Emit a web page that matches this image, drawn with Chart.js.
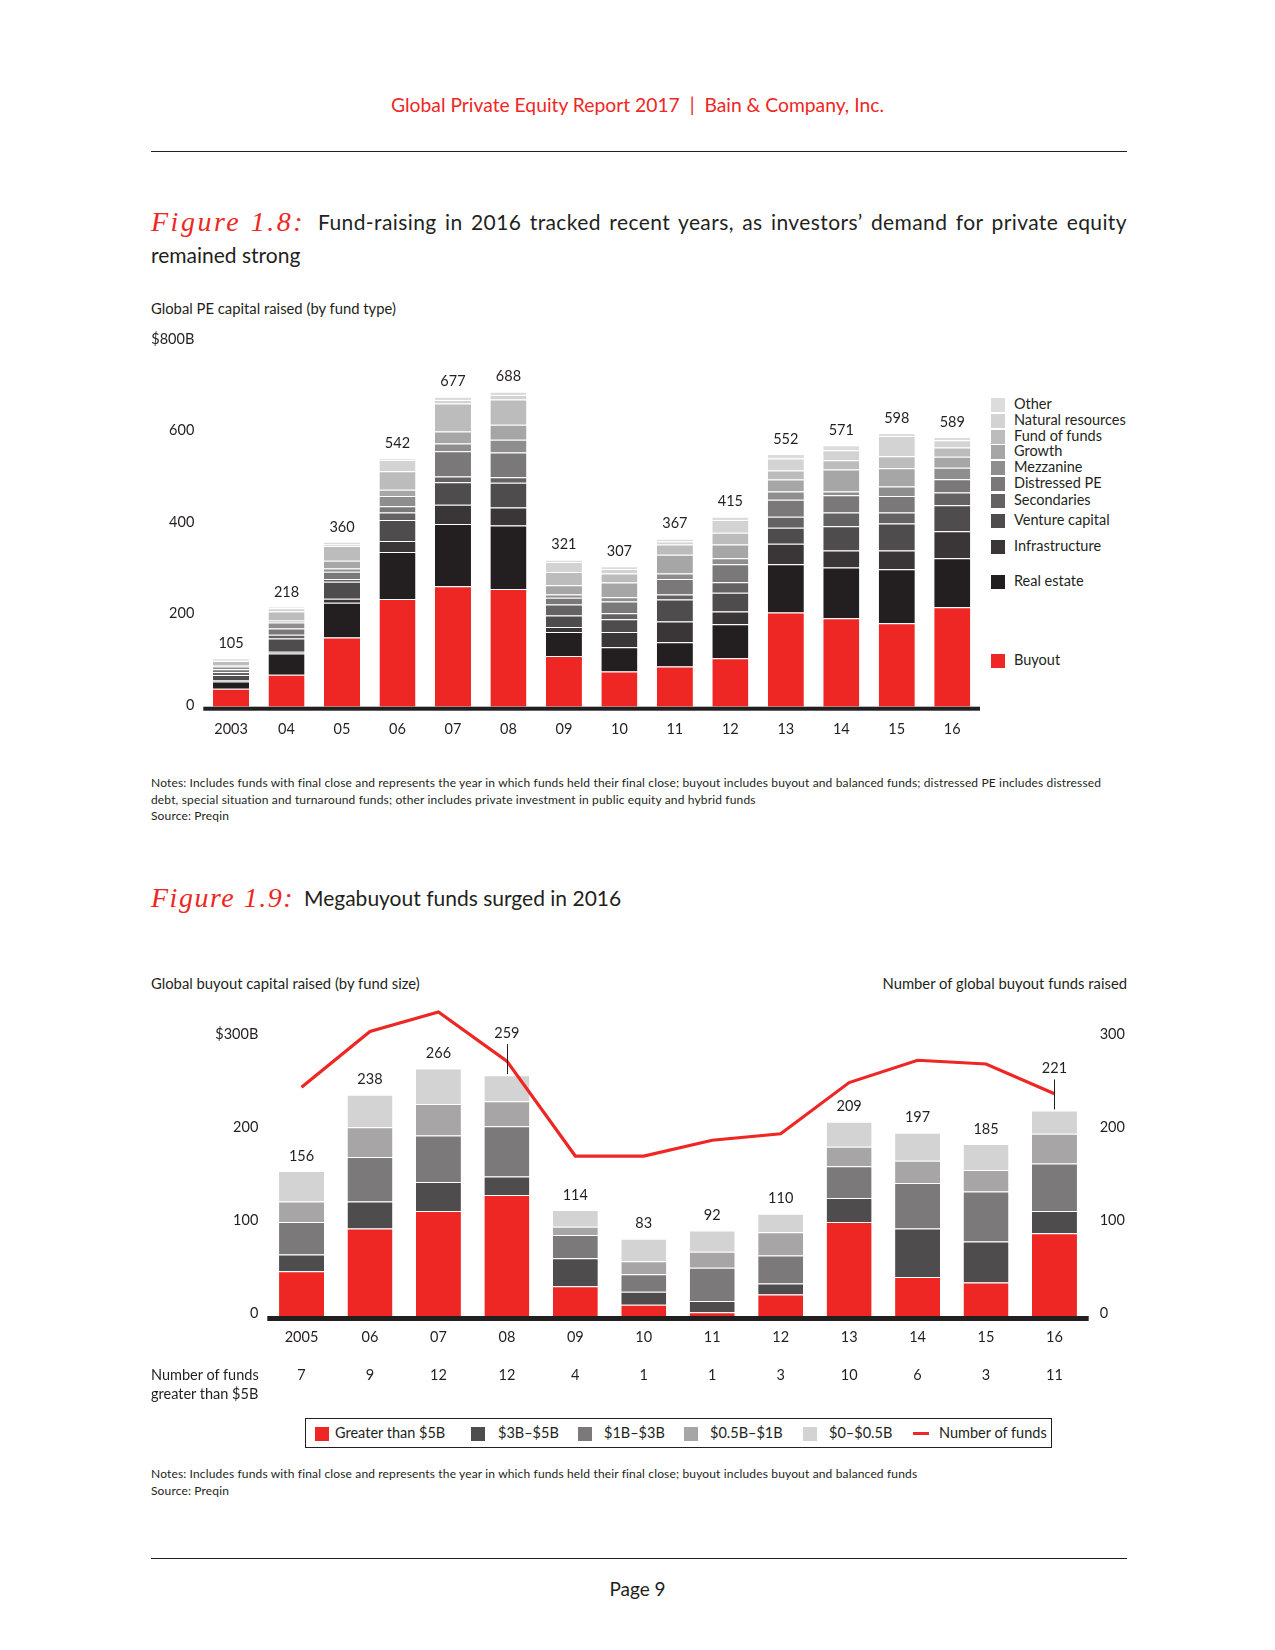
<!DOCTYPE html>
<html><head><meta charset="utf-8">
<script src="https://cdn.jsdelivr.net/npm/chart.js@4.4.0/dist/chart.umd.min.js"></script>
<style>
body{margin:0;background:#fff;}
#page{position:relative;width:1275px;height:1650px;font-family:Lato,sans-serif;color:#231F20;overflow:hidden;}
.abs{position:absolute;white-space:nowrap;}
.rule{position:absolute;left:151px;width:976px;height:1px;background:#231F20;}
.fig{font-family:"Liberation Serif",serif;font-style:italic;color:#EE2724;font-size:28px;letter-spacing:1.5px;}
.ttl{font-size:21px;}
.small{font-size:14.8px;}
.note{font-size:12px;line-height:16.5px;letter-spacing:0.15px;}
.lg1{position:absolute;left:991px;font-size:14.5px;height:16px;line-height:16px;}
.lg1 i{position:absolute;left:0;top:1px;width:14px;height:14px;}
.lg1 span{position:absolute;left:23px;top:-1px;white-space:nowrap;}
.sq{position:absolute;width:14px;height:14px;top:8px;}
.lt{position:absolute;top:5px;font-size:14.5px;white-space:nowrap;line-height:18px;}
canvas{position:absolute;}
</style></head><body><div id="page">

<div class="abs" style="left:0;width:1275px;text-align:center;top:94px;font-size:19.3px;line-height:22px;color:#EE2724;">Global Private Equity Report 2017&nbsp;&nbsp;|&nbsp;&nbsp;Bain &amp; Company, Inc.</div>
<div class="rule" style="top:151px;"></div>

<div class="abs fig" style="left:151px;top:204px;line-height:36px;letter-spacing:2.5px;">Figure 1.8:</div>
<div class="abs ttl" style="left:318px;width:809px;top:209px;line-height:26px;letter-spacing:0.4px;text-align:justify;text-align-last:justify;">Fund-raising in 2016 tracked recent years, as investors’ demand for private equity</div>
<div class="abs ttl" style="left:151px;top:242px;line-height:26px;">remained strong</div>
<div class="abs small" style="left:151px;top:299px;line-height:18px;">Global PE capital raised (by fund type)</div>

<canvas id="c1" width="890" height="420" style="left:100px;top:320px;width:890px;height:420px;"></canvas>
<div id="legend1"></div>

<div class="abs note" style="left:151px;top:775px;">Notes: Includes funds with final close and represents the year in which funds held their final close; buyout includes buyout and balanced funds; distressed PE includes distressed<br>debt, special situation and turnaround funds; other includes private investment in public equity and hybrid funds<br>Source: Preqin</div>

<div class="abs fig" style="left:151px;top:880px;line-height:36px;">Figure 1.9:</div>
<div class="abs ttl" style="left:304px;top:885px;line-height:26px;">Megabuyout funds surged in 2016</div>

<div class="abs small" style="left:151px;top:974px;line-height:18px;">Global buyout capital raised (by fund size)</div>
<div class="abs small" style="right:148px;top:974px;line-height:18px;">Number of global buyout funds raised</div>

<canvas id="c2" width="1075" height="420" style="left:100px;top:980px;width:1075px;height:420px;"></canvas>

<div class="abs" style="left:151px;top:1365px;font-size:14.5px;line-height:19px;">Number of funds<br>greater than $5B</div>

<div id="legend2" style="position:absolute;left:305px;top:1418px;width:745px;height:28px;border:1px solid #231F20;"></div>

<div class="abs note" style="left:151px;top:1466px;">Notes: Includes funds with final close and represents the year in which funds held their final close; buyout includes buyout and balanced funds<br>Source: Preqin</div>

<div class="rule" style="top:1558px;"></div>
<div class="abs" style="left:0;width:1275px;text-align:center;top:1578px;font-size:19px;line-height:22px;">Page 9</div>

</div>
<script>
// ---------- Figure 1.8 data ----------
const years1 = ['2003','04','05','06','07','08','09','10','11','12','13','14','15','16'];
const totals1 = [105,218,360,542,677,688,321,307,367,415,552,571,598,589];
const buyout = [39,70,151,235,263,257,111,77,88,106,206,193,182,217];
const realEstate = [16,46,76,103,136,139,52,53,53,74,105,111,118,107];
const infrastructure = [2,4,9,24,42,39,11,33,45,28,45,37,41,59];
const ventureCapital = [12,29,37,46,49,54,25,28,48,41,35,53,59,57];
const secondaries = [7,8,6,16,13,12,24,13,11,23,24,30,24,28];
const distressedPE = [6,14,16,14,55,54,15,26,34,39,37,38,36,29];
const mezzanine = [6,13,7,22,17,28,7,9,12,13,18,8,21,25];
const growth = [3,4,17,14,26,33,20,32,41,30,26,48,40,24];
const fundOfFunds = [9,20,32,40,61,55,29,20,22,26,20,20,26,20];
const naturalResources = [2,7,3,25,8,10,22,10,7,28,26,22,44,16];
const other = [3,3,6,3,7,7,5,6,6,7,10,11,7,7];
const yTicks1 = [0,200,400,600,800];

// ---------- Figure 1.9 data ----------
const years2 = ['2005','06','07','08','09','10','11','12','13','14','15','16'];
const totals2 = [156,238,266,259,114,83,92,110,209,197,185,221];
const over5B = [48,94,113,130,32,12,4,23,101,42,36,89];
const from3to5B = [18,29,31,20,30,14,12,12,26,52,44,24];
const from1to3B = [35,48,50,54,25,19,36,30,34,49,54,51];
const from05to1B = [22,32,34,27,9,14,17,25,21,24,23,32];
const from0to05B = [33,35,38,28,18,24,23,20,27,30,28,25];
const numberOfFunds = [246,306,327,274,172,172,189,196,251,275,271,239];
const fundsOver5B = [7,9,12,12,4,1,1,3,10,6,3,11];
const calloutYears = ['08','16'];
const yTicks2 = [0,100,200,300];

Chart.defaults.font.family = 'Lato, sans-serif';
Chart.defaults.color = '#231F20';
Chart.defaults.animation = false;

const RED = '#EE2724';
const txt = '#231F20';

const baseline = {
  id:'baseline',
  afterDatasetsDraw(chart, a, o){
    const {ctx, chartArea:ca} = chart;
    ctx.save(); ctx.fillStyle = txt;
    ctx.fillRect(ca.left, ca.bottom, ca.right-ca.left, o.h);
    ctx.restore();
  }
};

// ---------- Chart 1 ----------
const series1 = [
  ['Buyout', buyout, RED],
  ['Real estate', realEstate, '#231F20'],
  ['Infrastructure', infrastructure, '#3A3637'],
  ['Venture capital', ventureCapital, '#4E4C4D'],
  ['Secondaries', secondaries, '#646263'],
  ['Distressed PE', distressedPE, '#7A7879'],
  ['Mezzanine', mezzanine, '#8F8E8E'],
  ['Growth', growth, '#A7A6A6'],
  ['Fund of funds', fundOfFunds, '#BDBCBC'],
  ['Natural resources', naturalResources, '#D3D3D3'],
  ['Other', other, '#DCDCDC']
];

const labels1 = {
  id:'labels1',
  afterDatasetsDraw(chart){
    const {ctx, scales:{x,y}} = chart;
    ctx.save();
    ctx.font = '14.5px Lato'; ctx.fillStyle = txt; ctx.textAlign='center'; ctx.textBaseline='middle';
    totals1.forEach((t,i)=>{ ctx.fillText(String(t), x.getPixelForValue(i), y.getPixelForValue(t)-15); });
    ctx.restore();
  }
};

new Chart(document.getElementById('c1'), {
  type:'bar',
  data:{
    labels: years1,
    datasets: series1.map(s=>({label:s[0], data:s[1], backgroundColor:s[2], borderColor:'#fff',
      borderWidth:{top:1,left:0,right:0,bottom:0}, borderSkipped:'start',
      barPercentage:0.65, categoryPercentage:1.0}))
  },
  options:{
    responsive:false,
    layout:{padding:{top:20.4,right:10,bottom:0,left:0}},
    plugins:{legend:{display:false}, tooltip:{enabled:false}, baseline:{h:4}},
    scales:{
      x:{stacked:true, grid:{display:false, drawTicks:false}, border:{display:false},
         ticks:{font:{size:14.5}, padding:14, color:txt},
         afterFit(s){ s.height = 33.3; }},
      y:{stacked:true, min:0, max:800, grid:{display:false, drawTicks:false}, border:{display:false},
         afterBuildTicks(s){ s.ticks = yTicks1.map(v=>({value:v})); },
         ticks:{font:{size:14.5}, padding:9, labelOffset:-1.5, color:txt, callback:v=> v===800 ? '$800B' : String(v)},
         afterFit(s){ s.width = 103.3; }}
    }
  },
  plugins:[baseline, labels1]
});

// legend 1
const legendPos1 = {'Other':404.5,'Natural resources':421,'Fund of funds':436.5,'Growth':452,'Mezzanine':468,
 'Distressed PE':484,'Secondaries':501,'Venture capital':520.5,'Infrastructure':546.5,'Real estate':582,'Buyout':660.5};
const lg1 = document.getElementById('legend1');
series1.forEach(s=>{
  const d = document.createElement('div'); d.className='lg1';
  d.style.top = (legendPos1[s[0]]-8)+'px';
  d.innerHTML = '<i style="background:'+s[2]+'"></i><span>'+s[0]+'</span>';
  lg1.appendChild(d);
});

// ---------- Chart 2 ----------
const series2 = [
  ['Greater than $5B', over5B, RED],
  ['$3B–$5B', from3to5B, '#4E4C4D'],
  ['$1B–$3B', from1to3B, '#7B797A'],
  ['$0.5B–$1B', from05to1B, '#A7A5A6'],
  ['$0–$0.5B', from0to05B, '#D3D3D3']
];

const labels2 = {
  id:'labels2',
  afterDatasetsDraw(chart){
    const {ctx, scales:{x,y}} = chart;
    ctx.save();
    ctx.font = '14.5px Lato'; ctx.fillStyle = txt; ctx.textAlign='center'; ctx.textBaseline='middle';
    totals2.forEach((t,i)=>{
      const px = x.getPixelForValue(i), py = y.getPixelForValue(t);
      if (calloutYears.includes(years2[i])) {
        ctx.fillText(String(t), px, py-42);
        ctx.strokeStyle = txt; ctx.lineWidth = 1;
        ctx.beginPath(); ctx.moveTo(Math.round(px)+0.5, py-31); ctx.lineTo(Math.round(px)+0.5, py-1); ctx.stroke();
      } else {
        ctx.fillText(String(t), px, py-15);
      }
    });
    // number of funds > $5B row
    fundsOver5B.forEach((n,i)=>{ ctx.fillText(String(n), x.getPixelForValue(i), 395); });
    ctx.restore();
  }
};

const ds2 = series2.map(s=>({type:'bar', label:s[0], data:s[1], backgroundColor:s[2], borderColor:'#fff',
  borderWidth:{top:1,left:0,right:0,bottom:0}, borderSkipped:'start',
  barPercentage:0.657, categoryPercentage:1.0, yAxisID:'y', order:2}));
ds2.push({type:'line', label:'Number of funds', data:numberOfFunds, borderColor:RED, borderWidth:3.2,
  pointRadius:0, tension:0, fill:false, yAxisID:'y1', order:0});

new Chart(document.getElementById('c2'), {
  type:'bar',
  data:{ labels: years2, datasets: ds2 },
  options:{
    responsive:false,
    layout:{padding:{top:19.8,right:0,bottom:0,left:0}},
    plugins:{legend:{display:false}, tooltip:{enabled:false}, baseline:{h:5}},
    scales:{
      x:{stacked:true, grid:{display:false, drawTicks:false}, border:{display:false},
         ticks:{font:{size:14.5}, padding:12.5, color:txt},
         afterFit(s){ s.height = 84; }},
      y:{stacked:true, position:'left', min:0, max:340, grid:{display:false, drawTicks:false}, border:{display:false},
         afterBuildTicks(s){ s.ticks = yTicks2.map(v=>({value:v})); },
         ticks:{font:{size:14.5}, padding:9, labelOffset:-3, color:txt, callback:v=> v===300 ? '$300B' : String(v)},
         afterFit(s){ s.width = 167.3; }},
      y1:{position:'right', min:0, max:340, grid:{display:false, drawTicks:false}, border:{display:false},
         afterBuildTicks(s){ s.ticks = yTicks2.map(v=>({value:v})); },
         ticks:{font:{size:14.5}, padding:11, labelOffset:-3, color:txt, callback:v=>String(v)},
         afterFit(s){ s.width = 86.3; }}
    }
  },
  plugins:[baseline, labels2]
});

// legend 2
const lg2 = document.getElementById('legend2');
const sqX = [9, 165, 272, 378, 497];
const txX = [29, 192, 298, 404, 523];
series2.forEach((s,i)=>{
  const q = document.createElement('div'); q.className='sq'; q.style.left=sqX[i]+'px'; q.style.background=s[2]; lg2.appendChild(q);
  const t = document.createElement('div'); t.className='lt'; t.style.left=txX[i]+'px'; t.textContent=s[0]; lg2.appendChild(t);
});
const ln = document.createElement('div'); ln.style.cssText='position:absolute;left:607px;top:13px;width:16px;height:3px;background:'+RED; lg2.appendChild(ln);
const lt = document.createElement('div'); lt.className='lt'; lt.style.left='633px'; lt.textContent='Number of funds'; lg2.appendChild(lt);
</script>
</body></html>
